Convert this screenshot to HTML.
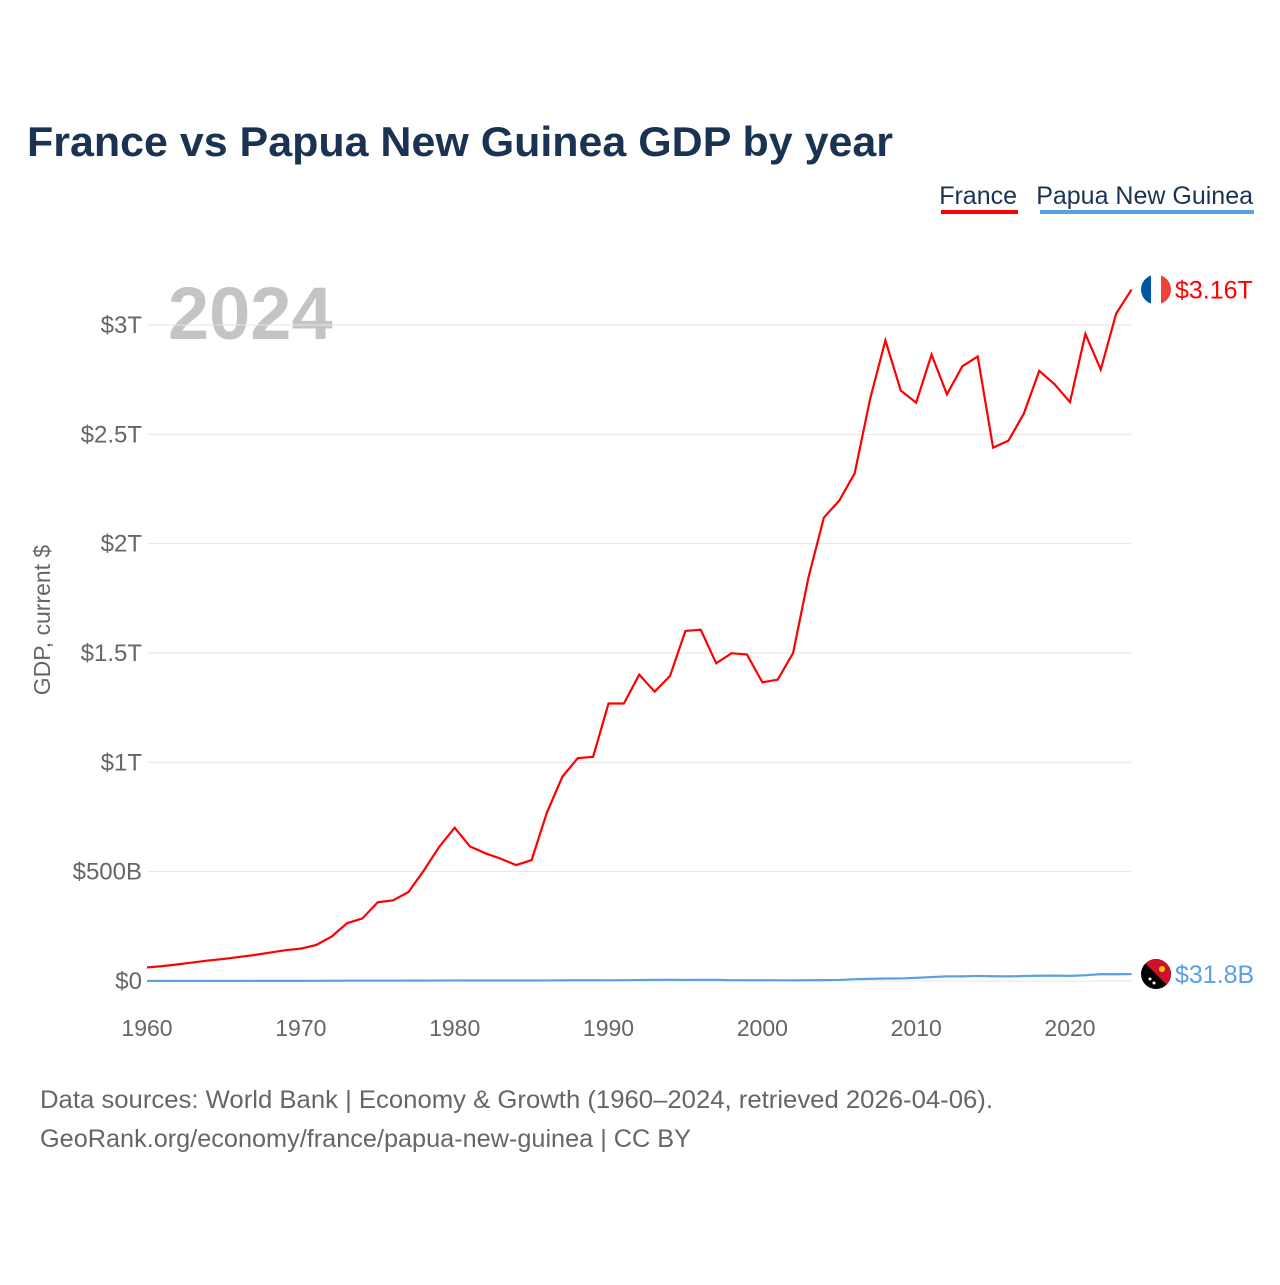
<!DOCTYPE html>
<html><head><meta charset="utf-8"><style>
body{margin:0;background:#fff;width:1280px;height:1280px;overflow:hidden;font-family:"Liberation Sans",sans-serif}
</style></head><body>
<svg width="1280" height="1280" viewBox="0 0 1280 1280" id="chart">
<text x="27" y="156" font-size="42" font-weight="bold" fill="#1a3353" textLength="866" lengthAdjust="spacingAndGlyphs">France vs Papua New Guinea GDP by year</text>
<g>
<text x="1017" y="204" font-size="25" fill="#1a3353" text-anchor="end">France</text>
<rect x="941" y="210" width="77" height="4" fill="#ff0000"/>
<text x="1253" y="204" font-size="25" fill="#1a3353" text-anchor="end">Papua New Guinea</text>
<rect x="1040" y="210" width="214" height="4" fill="#5aa0e6"/>
</g>
<text x="168" y="339" font-size="74" font-weight="bold" fill="#c4c4c4">2024</text>
<text transform="translate(50,620) rotate(-90)" font-size="23" fill="#666" text-anchor="middle">GDP, current $</text>
<g id="grid"></g><g id="yticks"></g><g id="xticks"></g><g id="lines"></g>
<text x="40" y="1108" font-size="25" fill="#666" textLength="953" lengthAdjust="spacingAndGlyphs">Data sources: World Bank | Economy &amp; Growth (1960–2024, retrieved 2026-04-06).</text>
<text x="40" y="1147" font-size="25" fill="#666" textLength="651" lengthAdjust="spacingAndGlyphs">GeoRank.org/economy/france/papua-new-guinea | CC BY</text>
</svg>
<script>
const years=[];for(let y=1960;y<=2024;y++)years.push(y);
const franceT=[0.062,0.068,0.076,0.085,0.094,0.101,0.110,0.119,0.130,0.141,0.148,0.165,0.203,0.264,0.286,0.360,0.369,0.407,0.506,0.614,0.701,0.615,0.584,0.559,0.530,0.553,0.771,0.934,1.019,1.025,1.269,1.269,1.401,1.323,1.395,1.601,1.606,1.453,1.499,1.493,1.366,1.378,1.500,1.846,2.119,2.197,2.321,2.660,2.930,2.700,2.645,2.865,2.683,2.811,2.856,2.439,2.471,2.595,2.790,2.729,2.647,2.959,2.796,3.052,3.162];
const pngB=[0.23,0.25,0.27,0.29,0.32,0.35,0.39,0.43,0.48,0.55,0.65,0.75,0.98,1.4,1.36,1.35,1.45,1.55,1.76,2.1,2.55,2.4,2.3,2.4,2.4,2.3,2.5,2.9,3.4,3.5,3.2,3.8,4.4,5.0,5.5,4.9,5.2,5.0,3.8,3.5,3.5,3.1,2.9,3.5,4.0,4.9,8.4,9.6,11.5,11.8,14.2,17.9,21.3,21.3,23.1,21.7,21.0,22.7,24.1,24.7,23.6,26.3,31.4,30.9,31.8];
const yTickVals=[0,0.5,1,1.5,2,2.5,3];
const yTickLabels=["$0","$500B","$1T","$1.5T","$2T","$2.5T","$3T"];
const xTickVals=[1960,1970,1980,1990,2000,2010,2020];
const ns="http://www.w3.org/2000/svg";
const X=y=>147+(y-1960)*(923/60);
const Y=v=>981-v*218.67;
function mk(tag,attrs,parent){const e=document.createElementNS(ns,tag);for(const k in attrs)e.setAttribute(k,attrs[k]);document.getElementById(parent).appendChild(e);return e;}
yTickVals.forEach((v,i)=>{
 const l=mk('line',{x1:147,x2:1131,y1:Y(v),y2:Y(v),stroke:'#e6e6e6','stroke-width':1},'grid');
 
 
 const t=mk('text',{x:142,y:Y(v)+8,'font-size':24,fill:'#666','text-anchor':'end'},'yticks');
 t.textContent=yTickLabels[i];
 
 
});
xTickVals.forEach(v=>{
 const t=mk('text',{x:X(v),y:1036,'font-size':23,fill:'#666','text-anchor':'middle'},'xticks');
 t.textContent=v;
 
 
});
const fp=mk('polyline',{points:years.map((y,i)=>X(y)+','+Y(franceT[i])).join(' '),fill:'none',stroke:'#ff0000','stroke-width':2.2},'lines');


const pp=mk('polyline',{points:years.map((y,i)=>X(y)+','+Y(pngB[i]/1000)).join(' '),fill:'none',stroke:'#5aa0e6','stroke-width':2.2},'lines');


const lastF=franceT[franceT.length-1],lastP=pngB[pngB.length-1];
const fy=Y(lastF),py=Y(lastP/1000);
const g1=mk('g',{},'lines');
g1.innerHTML=`<defs><clipPath id="c1"><circle cx="1156" cy="${fy}" r="15"/></clipPath><clipPath id="c2"><circle cx="1156" cy="${py}" r="15"/></clipPath></defs>
<g clip-path="url(#c1)"><rect x="1141" y="${fy-15}" width="10" height="30" fill="#0055a4"/><rect x="1151" y="${fy-15}" width="10" height="30" fill="#fff"/><rect x="1161" y="${fy-15}" width="10" height="30" fill="#ef4135"/></g>
<g clip-path="url(#c2)"><rect x="1141" y="${py-15}" width="30" height="30" fill="#000"/><polygon points="1141,${py-15} 1171,${py-15} 1171,${py+15}" fill="#ce1126"/><circle cx="1162" cy="${py-5}" r="3" fill="#fcd116"/><circle cx="1150" cy="${py+5}" r="1.5" fill="#fff"/><circle cx="1154" cy="${py+9}" r="1.5" fill="#fff"/></g>`;
const t1=mk('text',{x:1175,y:fy+9,'font-size':25,fill:'#ff0000'},'lines');t1.textContent='$'+lastF.toFixed(2)+'T';

const t2=mk('text',{x:1175,y:py+9,'font-size':25,fill:'#5aa0e6'},'lines');t2.textContent='$'+lastP.toFixed(1)+'B';

</script>
</body></html>
